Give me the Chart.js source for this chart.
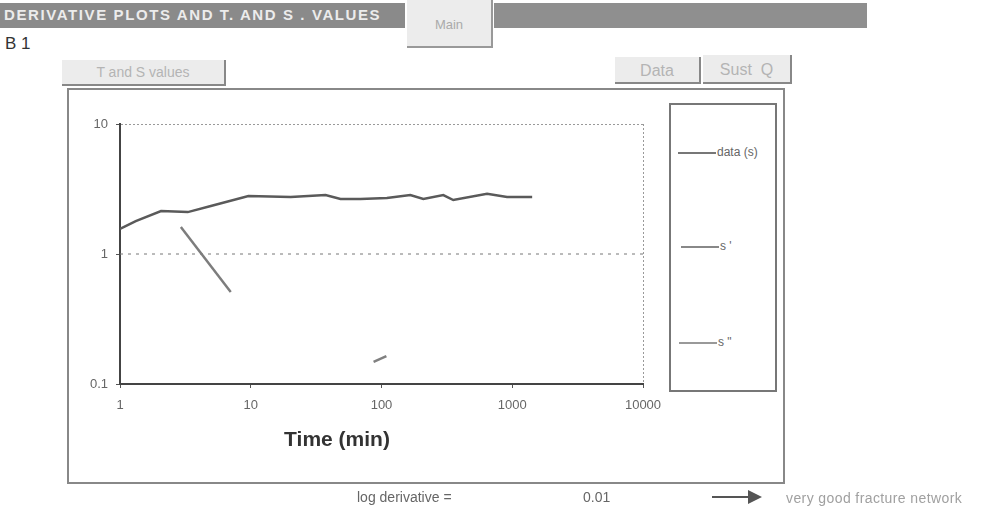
<!DOCTYPE html>
<html><head><meta charset="utf-8">
<script src="https://cdn.jsdelivr.net/npm/chart.js@4.4.1/dist/chart.umd.min.js"></script>
<style>
html,body{margin:0;padding:0;background:#fff;width:994px;height:516px;overflow:hidden;font-family:"Liberation Sans",Arial,sans-serif;}
#wrap{position:relative;width:994px;height:516px;}
canvas{position:absolute;left:0;top:0;}
.abs{position:absolute;}
#bar1{left:0;top:3px;width:405px;height:25px;background:#8a8a8a;}
#bar2{left:494px;top:3px;width:373px;height:25px;background:#8f8f8f;}
#title{left:4px;top:6px;font-size:15px;font-weight:bold;color:#ececec;letter-spacing:1.6px;white-space:nowrap;}
#main{left:407px;top:0;width:86px;height:48px;background:#ececec;border-right:2px solid #999;border-bottom:2px solid #999;box-sizing:border-box;color:#aaa;font-size:13px;text-align:center;line-height:50px;}
#b1{left:5px;top:34px;font-size:17px;color:#333;}
.btn{background:#ececec;border-right:2px solid #888;border-bottom:2px solid #888;box-sizing:border-box;color:#b4b4b4;text-align:center;white-space:nowrap;}
#frame{left:67px;top:88px;width:718px;height:396px;border:2px solid #888;box-sizing:border-box;}
#legbox{left:669px;top:103px;width:108px;height:289px;border:2px solid #777;box-sizing:border-box;}
.leg{position:absolute;font-size:12px;color:#666;white-space:nowrap;}
.leg span{display:inline-block;width:38px;height:0;border-top:2px solid #777;vertical-align:middle;margin-right:1px;}
</style></head><body>
<div id="wrap">
<div class="abs" id="bar1"></div><div class="abs" id="bar2"></div>
<div class="abs" id="title">DERIVATIVE PLOTS AND T. AND S . VALUES</div>
<div class="abs" id="main">Main</div>
<div class="abs" id="b1">B 1</div>
<div class="abs btn" style="left:62px;top:60px;width:164px;height:26px;font-size:14px;line-height:25px;">T and S values</div>
<div class="abs btn" style="left:615px;top:57px;width:86px;height:27px;font-size:16px;line-height:27px;">Data</div>
<div class="abs btn" style="left:703px;top:55px;width:89px;height:29px;font-size:16px;line-height:29px;">Sust&nbsp;&nbsp;Q</div>
<div class="abs" id="frame"></div>
<div class="abs" id="legbox"></div>
<div class="leg" style="left:678px;top:145px;"><span></span>data (s)</div>
<div class="leg" style="left:681px;top:239px;"><span style="border-color:#888"></span>s '</div>
<div class="leg" style="left:679px;top:335px;"><span style="border-color:#999"></span>s "</div>
<canvas id="c" width="994" height="516"></canvas>
<div class="abs" style="left:0;top:427px;width:674px;text-align:center;font-size:21px;font-weight:bold;color:#333;">Time (min)</div>
<div class="abs" style="left:357px;top:489px;font-size:14px;color:#666;">log derivative =</div>
<div class="abs" style="left:583px;top:489px;font-size:14px;color:#666;">0.01</div>
<div class="abs" style="left:712px;top:496px;width:38px;height:0;border-top:2px solid #555;"></div>
<div class="abs" style="left:748px;top:490px;width:0;height:0;border-top:7px solid transparent;border-bottom:7px solid transparent;border-left:14px solid #555;"></div>
<div class="abs" style="left:786px;top:490px;font-size:14px;letter-spacing:0.4px;color:#a0a0a0;white-space:nowrap;">very good fracture network</div>
</div>
<script>
// Data (Time in min, derivative values)
const dataTime = [1, 1.32, 2.06, 3.3, 4.95, 9.6, 20.2, 37.3, 48.6, 69, 110, 166, 209, 297, 354, 642, 912, 1420];
const dataS    = [1.56, 1.79, 2.14, 2.10, 2.34, 2.79, 2.74, 2.84, 2.65, 2.65, 2.70, 2.84, 2.65, 2.84, 2.60, 2.90, 2.74, 2.74];
const s1Time = [2.92, 7.03];
const s1Vals = [1.61, 0.51];
const s2Time = [87, 109];
const s2Vals = [0.148, 0.164];
const refTime = [1, 10000];
const refVals = [1, 1];
const xTicks = [1, 10, 100, 1000, 10000];
const yTicks = [0.1, 1, 10];

const pts = (xs, ys) => xs.map((x, i) => ({x, y: ys[i]}));

new Chart(document.getElementById('c'), {
  type: 'scatter',
  data: {
    datasets: [
      {label: 'data (s)', data: pts(dataTime, dataS), showLine: true, borderColor: '#5a5a5a', borderWidth: 2.5, pointRadius: 0, tension: 0},
      {label: "s '", data: pts(s1Time, s1Vals), showLine: true, borderColor: '#7d7d7d', borderWidth: 2.5, pointRadius: 0},
      {label: 's "', data: pts(s2Time, s2Vals), showLine: true, borderColor: '#808080', borderWidth: 2.5, pointRadius: 0},
      {label: 'ref', data: pts(refTime, refVals), showLine: true, borderColor: '#777', borderWidth: 1, borderDash: [3, 5], pointRadius: 0}
    ]
  },
  options: {
    responsive: false,
    animation: false,
    events: [],
    layout: {padding: {left: 70, top: 124, right: 351, bottom: 102}},
    plugins: {legend: {display: false}, tooltip: {enabled: false}},
    scales: {
      x: {
        type: 'logarithmic', min: 1, max: 10000,
        afterBuildTicks: s => { s.ticks = xTicks.map(v => ({value: v})); },
        afterFit: s => { s.height = 30; },
        ticks: {color: '#666', font: {family: 'Liberation Sans', size: 13}, padding: 10, maxRotation: 0,
                callback: v => String(v)},
        grid: {drawOnChartArea: true, color: c => c.tick && c.tick.value === 10000 ? '#999' : 'rgba(0,0,0,0)',
               tickColor: '#555', tickLength: 4, lineWidth: 1},
        border: {display: true, color: '#444', width: 2, dash: [2, 2]}
      },
      y: {
        type: 'logarithmic', min: 0.1, max: 10,
        afterBuildTicks: s => { s.ticks = yTicks.map(v => ({value: v})); },
        afterFit: s => { s.width = 50; },
        ticks: {color: '#666', font: {family: 'Liberation Sans', size: 13}, padding: 8,
                callback: v => String(v)},
        grid: {color: c => c.tick && c.tick.value === 10 ? '#999' : 'rgba(0,0,0,0)',
               tickColor: '#555', tickLength: 4, lineWidth: 1},
        border: {display: true, color: '#444', width: 2, dash: [2, 2]}
      }
    }
  }
});
</script>
</body></html>
